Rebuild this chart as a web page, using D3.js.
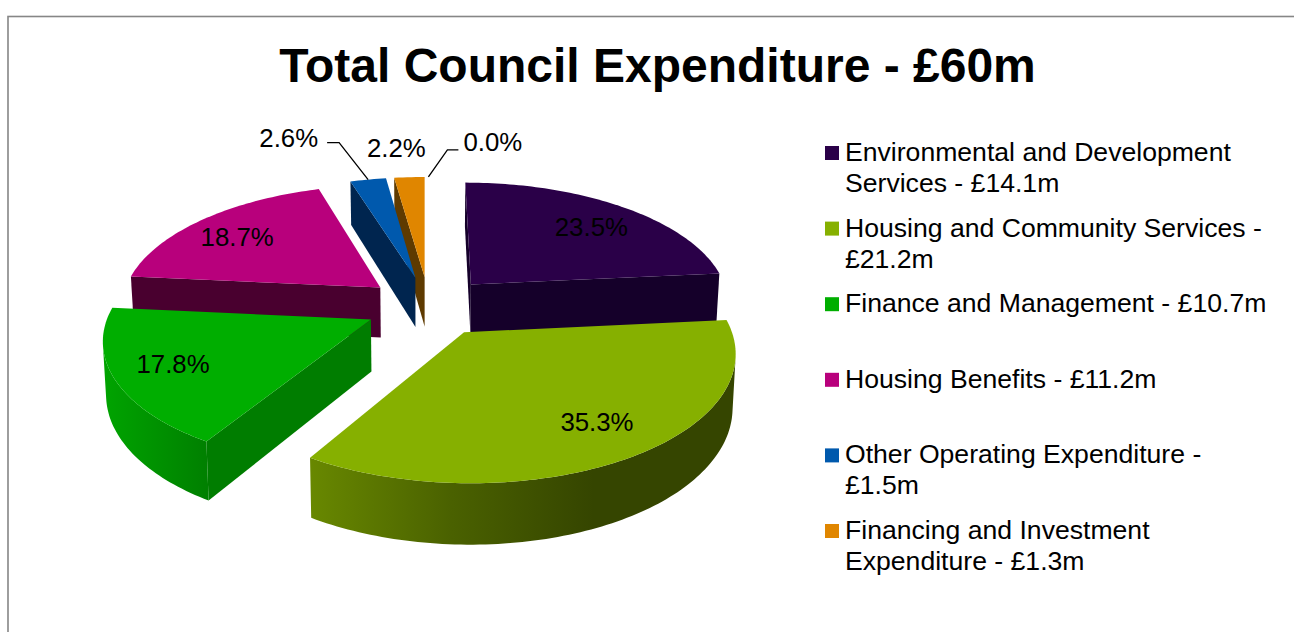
<!DOCTYPE html>
<html>
<head>
<meta charset="utf-8">
<title>Total Council Expenditure</title>
<script src="https://cdn.jsdelivr.net/npm/d3@7"></script>
<style>
	html, body { margin: 0; padding: 0; background: #fff; overflow: hidden; }
	text { font-family: "Liberation Sans", Arial, sans-serif; fill: #000; }
</style>
</head>
<body>
<div id="chart"></div>
<script>
"use strict"

// chart values
const titleText = "Total Council Expenditure - £60m";
const categories = [
	"Environmental and Development Services",
	"Housing and Community Services",
	"Finance and Management",
	"Housing Benefits",
	"Other Operating Expenditure",
	"Financing and Investment Expenditure",
	""
];
const amounts = [14.1, 21.2, 10.7, 11.2, 1.5, 1.3, 0];
const shares = [23.5, 35.3, 17.8, 18.7, 2.6, 2.2, 0.0];

// where the legend text breaks, as characters kept on the first line
const legendBreaks = [
	"Environmental and Development",
	"Housing and Community Services -",
	null,
	null,
	"Other Operating Expenditure -",
	"Financing and Investment"
];

const WIDTH = 1294;
const HEIGHT = 632;
const FONT_SIZE = 25.8;
const LEGEND_FONT_SIZE = 26.6;

// slice colours: top face, flat wall, rim gradient stops
const topColors = ["#2a0048", "#86b000", "#00ae00", "#b8007c", "#0059ad", "#e08600", "#888888"];
const wallColors = ["#15002a", "#435800", "#007d00", "#49002f", "#00254f", "#5e3a00", "#444444"];
const rimStops = [
	["#15002a", "#15002a"],
	["#688800", "#4a6100", "#354500", "#354500"],
	["#00a400", "#008000"],
	["#49002f", "#49002f"],
	["#00254f", "#00254f"],
	["#5e3a00", "#5e3a00"],
	["#444444", "#444444"]
];

// perspective of the pie plane
const RADIUS = 260;
const EXPLODE = 64;
const DEPTH = 1850;
const HORIZON_Y = -560;
const CENTRE_Y = 306;
const VANISH_X = 425;
const X_SHIFT = 4;
const WALL = 51;
const WALL_SHRINK = 0.99;

// gx goes right, gy goes towards the viewer
function project(gx, gy, lower)
{
	var w = DEPTH / (DEPTH - gy);
	var x = VANISH_X + (gx + X_SHIFT) * w;
	var y = HORIZON_Y + (CENTRE_Y - HORIZON_Y) * w;
	if (lower) {
		x = VANISH_X + (x - VANISH_X) * WALL_SHRINK;
		y = y + WALL * w;
	}
	return [x, y];
}

// point at a fraction of the radius along angle a, for one exploded slice
function slicePoint(d, a, frac, lower)
{
	var mid = (d.startAngle + d.endAngle) / 2;
	var gx = EXPLODE * Math.sin(mid) + RADIUS * frac * Math.sin(a);
	var gy = -EXPLODE * Math.cos(mid) - RADIUS * frac * Math.cos(a);
	return project(gx, gy, lower);
}

// d3.polygonArea is positive for faces that look at the viewer here
function facesViewer(pts)
{
	return d3.polygonArea(pts) > 0;
}

var svg = d3.select("#chart")
	.append("svg")
	.attr("width", WIDTH)
	.attr("height", HEIGHT)
	.style("display", "block");

var defs = svg.append("defs");
var line = d3.line();

// chart frame, runs off the right and bottom of the picture
svg.append("rect")
	.attr("x", 8)
	.attr("y", 16.5)
	.attr("width", WIDTH + 20)
	.attr("height", HEIGHT + 20)
	.attr("fill", "none")
	.attr("stroke", "#868686")
	.attr("stroke-width", 1.6);

svg.append("text")
	.attr("x", 657.5)
	.attr("y", 82)
	.attr("text-anchor", "middle")
	.attr("font-size", 48)
	.attr("font-weight", "bold")
	.text(titleText);

var pie = d3.pie().value(function(d) { return d; }).sort(null);
var slices = pie(shares).map(function(d, i) { d.index = i; return d; });

// paint from the back of the pie to the front
var order = slices
	.filter(function(d) { return d.value > 0; })
	.sort(function(a, b) {
		return d3.descending(
			Math.cos((a.startAngle + a.endAngle) / 2),
			Math.cos((b.startAngle + b.endAngle) / 2));
	});

var pieGroup = svg.append("g").attr("class", "pie");

order.forEach(function(d) {
	var g = pieGroup.append("g").attr("class", "slice");
	var steps = Math.max(4, Math.ceil((d.endAngle - d.startAngle) / 0.02));
	var angles = d3.range(steps + 1).map(function(k) {
		return d.startAngle + (d.endAngle - d.startAngle) * k / steps;
	});

	// radial walls, only those facing the viewer
	var a0 = d.startAngle, a1 = d.endAngle;
	var walls = [
		[slicePoint(d, a0, 0), slicePoint(d, a0, 1), slicePoint(d, a0, 1, true), slicePoint(d, a0, 0, true)],
		[slicePoint(d, a1, 1), slicePoint(d, a1, 0), slicePoint(d, a1, 0, true), slicePoint(d, a1, 1, true)]
	];
	walls.forEach(function(pts) {
		if (facesViewer(pts)) {
			g.append("path")
				.attr("d", line(pts) + "Z")
				.attr("fill", wallColors[d.index]);
		}
	});

	// outer rim, one path per visible run
	var runs = [], run = null;
	d3.pairs(angles).forEach(function(p) {
		var quad = [slicePoint(d, p[0], 1), slicePoint(d, p[1], 1),
			slicePoint(d, p[1], 1, true), slicePoint(d, p[0], 1, true)];
		if (facesViewer(quad)) {
			if (!run) { run = [p[0]]; runs.push(run); }
			run.push(p[1]);
		} else {
			run = null;
		}
	});
	runs.forEach(function(r, k) {
		var upper = r.map(function(a) { return slicePoint(d, a, 1); });
		var lower = r.map(function(a) { return slicePoint(d, a, 1, true); }).reverse();
		var xs = d3.extent(upper, function(p) { return p[0]; });
		var id = "rim" + d.index + "_" + k;
		var grad = defs.append("linearGradient")
			.attr("id", id)
			.attr("gradientUnits", "userSpaceOnUse")
			.attr("x1", xs[0]).attr("y1", 0)
			.attr("x2", xs[1]).attr("y2", 0);
		var stops = rimStops[d.index];
		stops.forEach(function(c, s) {
			grad.append("stop")
				.attr("offset", s / (stops.length - 1))
				.attr("stop-color", c);
		});
		g.append("path")
			.attr("d", line(upper.concat(lower)) + "Z")
			.attr("fill", "url(#" + id + ")");
	});

	// top face
	var topPts = [slicePoint(d, a0, 0)].concat(angles.map(function(a) { return slicePoint(d, a, 1); }));
	g.append("path")
		.attr("d", line(topPts) + "Z")
		.attr("fill", topColors[d.index]);
});

// percentage labels: anchor on the slice, then a nudge; small slices sit at the rim
const labelFrac = [0.68, 0.72, 0.75, 0.72, 1, 1, 1];
const labelNudge = [[15, 6], [17, 12], [-9, 9], [-12, 8], [-50, -33], [-13, -20], [35, -26]];
const labelAnchor = ["middle", "middle", "middle", "middle", "end", "middle", "start"];

svg.append("g").attr("class", "labels")
	.selectAll("text")
	.data(slices)
	.enter()
	.append("text")
	.attr("font-size", FONT_SIZE)
	.attr("text-anchor", function(d) { return labelAnchor[d.index]; })
	.attr("x", function(d) {
		var mid = (d.startAngle + d.endAngle) / 2;
		return slicePoint(d, mid, labelFrac[d.index])[0] + labelNudge[d.index][0];
	})
	.attr("y", function(d) {
		var mid = (d.startAngle + d.endAngle) / 2;
		return slicePoint(d, mid, labelFrac[d.index])[1] + labelNudge[d.index][1];
	})
	.text(function(d) { return d3.format(".1f")(d.value) + "%"; });

// leader lines for 2.6% and 0.0%: [slice index, elbow offsets from the rim]
const leaders = [
	[4, [[-29, -37], [-41, -37]]],
	[6, [[19, -27], [30, -27]]]
];
leaders.forEach(function(l) {
	var d = slices[l[0]];
	var mid = (d.startAngle + d.endAngle) / 2;
	var start = slicePoint(d, mid, 1);
	var pts = [start].concat(l[1].map(function(o) { return [start[0] + o[0], start[1] + o[1]]; }));
	svg.append("path")
		.attr("d", line(pts))
		.attr("fill", "none")
		.attr("stroke", "#000")
		.attr("stroke-width", 1.3);
});

// legend
const LEGEND_X = 825;
const LEGEND_TEXT_X = 845;
const LEGEND_TOP = 161;
const LEGEND_STEP = 75.6;
const LEGEND_LINE = 31;
const LEGEND_RECT_SIZE = 14;

var legendY = d3.scaleLinear().domain([0, 1]).range([LEGEND_TOP, LEGEND_TOP + LEGEND_STEP]);

var legend = svg.selectAll(".legend")
	.data(categories.slice(0, 6))
	.enter()
	.append("g")
	.attr("class", "legend")
	.attr("transform", function(d, i) { return "translate(0," + legendY(i) + ")"; });

legend.append("rect")
	.attr("x", LEGEND_X)
	.attr("y", -15)
	.attr("width", LEGEND_RECT_SIZE)
	.attr("height", LEGEND_RECT_SIZE)
	.attr("fill", function(d, i) { return topColors[i]; });

legend.each(function(d, i) {
	var full = d + " - £" + d3.format(".1f")(amounts[i]) + "m";
	var first = legendBreaks[i];
	var lines = first ? [first, full.slice(first.length).trim()] : [full];
	d3.select(this).selectAll("text")
		.data(lines)
		.enter()
		.append("text")
		.attr("x", LEGEND_TEXT_X)
		.attr("y", function(t, k) { return k * LEGEND_LINE; })
		.attr("font-size", LEGEND_FONT_SIZE)
		.text(function(t) { return t; });
});
</script>
</body>
</html>
